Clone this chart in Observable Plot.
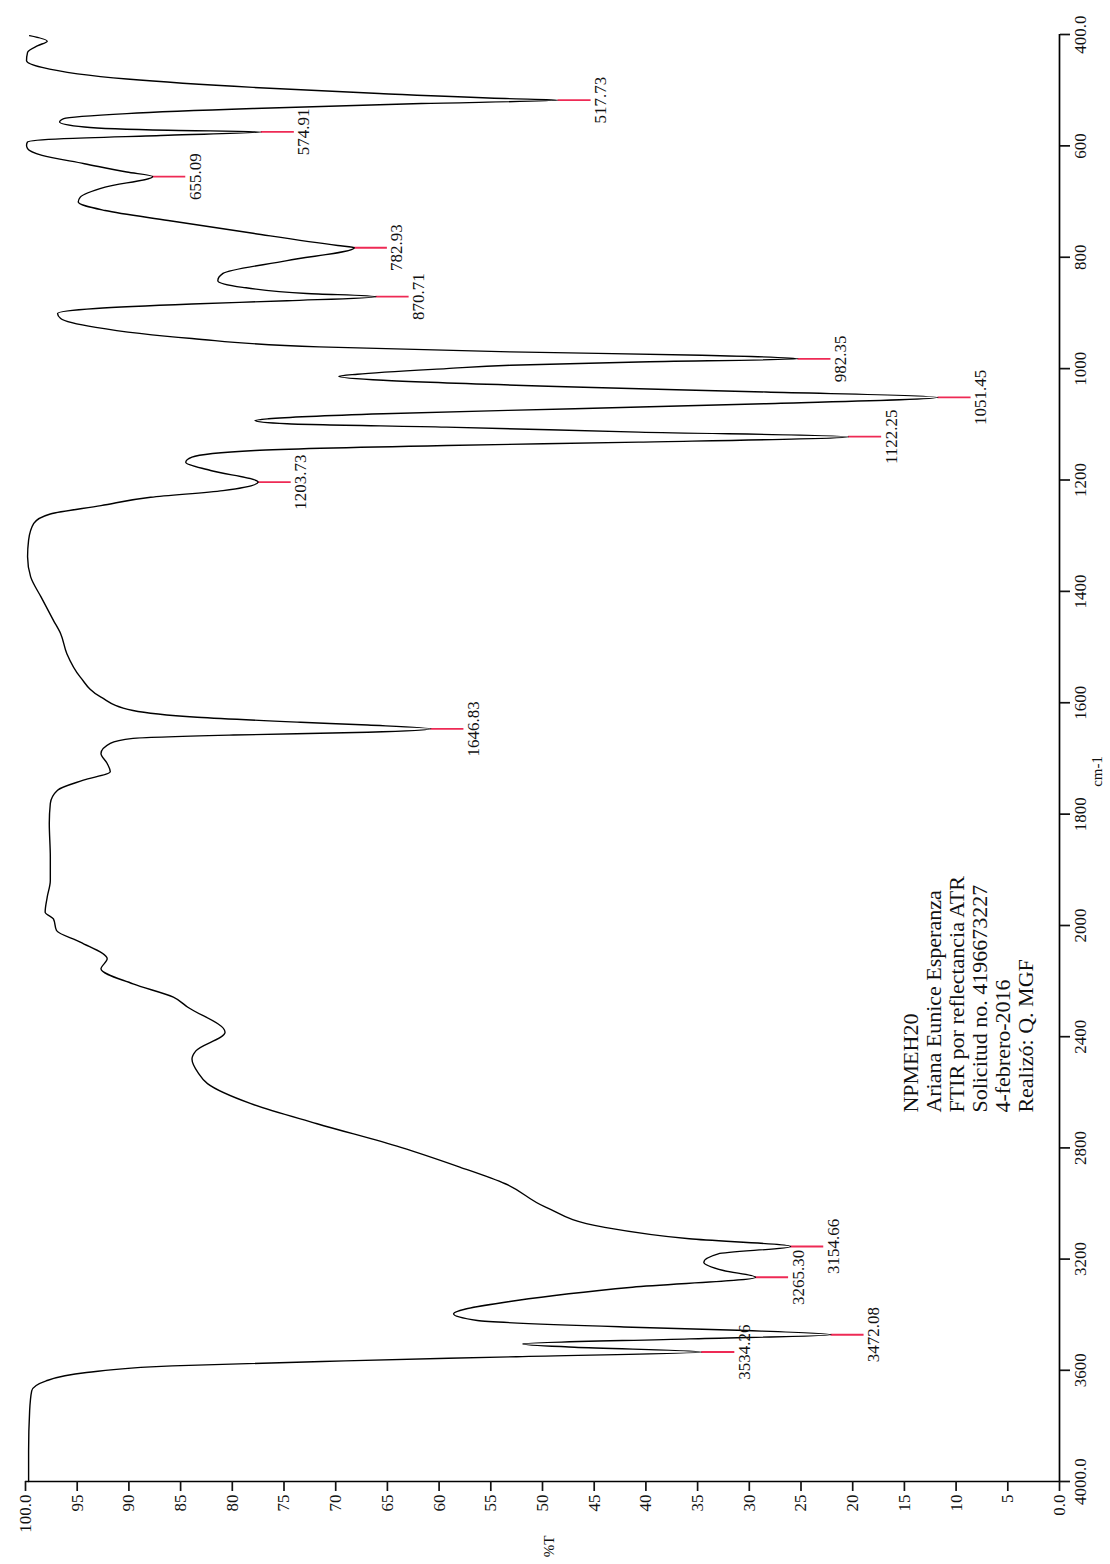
<!DOCTYPE html>
<html>
<head>
<meta charset="utf-8">
<script src="https://cdn.jsdelivr.net/npm/d3@7"></script>
<script src="https://cdn.jsdelivr.net/npm/@observablehq/plot@0.6"></script>
<style>
html, body { margin: 0; padding: 0; background: #fff; }
#chart { width: 1110px; height: 1564px; }
</style>
</head>
<body>
<div id="chart"></div>
<script>
// Wavenumber (cm-1) and %T
const wavenumbers = [402, 412, 420, 432, 447, 459, 480, 495, 506, 515, 517.73, 524, 533, 542, 551, 557, 566, 572, 574.91, 581, 587, 593, 599, 605, 617, 632, 647, 655.09, 674, 692, 701, 716, 734, 757, 779, 782.93, 806, 829, 842, 854, 865, 870.71, 878, 884, 892, 901, 910, 926, 946, 961, 970, 976, 982.35, 988, 994, 1000, 1010, 1014, 1021, 1033, 1042, 1051.45, 1063, 1072, 1081, 1090, 1093, 1099, 1105, 1114, 1122.25, 1132, 1138, 1147, 1159, 1168, 1183, 1203.73, 1219, 1231, 1246, 1261, 1278, 1308, 1338, 1374, 1410, 1452, 1476, 1512, 1554, 1590, 1614, 1626, 1635, 1640, 1646.83, 1653, 1658, 1664, 1673, 1691, 1709, 1724, 1739, 1757, 1781, 1817, 1877, 1919, 1949, 1976, 1988, 2018, 2060, 2120, 2156, 2210, 2258, 2294, 2384, 2450, 2480, 2530, 2569, 2641, 2713, 2798, 2869, 2929, 3013, 3085, 3127, 3154.66, 3181, 3211, 3241, 3265.30, 3301, 3349, 3397, 3421, 3445, 3457, 3472.08, 3487, 3505, 3517, 3534.26, 3551, 3566, 3584, 3608, 3638, 3674, 3746, 3890, 4000];
const transmittance = [99.6, 97.9, 98.8, 99.8, 99.9, 98.4, 90.2, 78.0, 65.8, 53.6, 48.5, 61.7, 78.0, 90.2, 96.3, 96.7, 94.3, 86.2, 77.2, 86.2, 96.3, 99.8, 99.9, 99.8, 98.4, 94.3, 90.2, 87.7, 92.3, 94.7, 94.9, 92.3, 86.2, 78.0, 69.8, 68.2, 74.7, 80.9, 81.4, 79.0, 72.8, 66.1, 74.7, 83.9, 93.2, 96.9, 96.6, 93.2, 83.9, 71.6, 53.1, 34.6, 25.3, 40.7, 53.1, 59.3, 67.9, 69.7, 65.4, 46.9, 28.4, 11.75, 28.4, 46.9, 65.4, 76.5, 77.8, 74.7, 59.3, 40.7, 20.4, 40.7, 59.3, 77.8, 83.9, 84.5, 82.1, 77.5, 80.9, 87.9, 92.7, 97.6, 99.2, 99.7, 99.8, 99.5, 98.5, 97.3, 96.6, 96.0, 94.7, 92.7, 89.6, 83.4, 73.4, 66.9, 60.8, 66.9, 79.9, 89.6, 91.8, 92.7, 92.1, 91.8, 94.4, 96.9, 97.6, 97.7, 97.6, 97.6, 97.9, 98.1, 97.3, 97.0, 94.7, 92.1, 92.7, 89.6, 85.7, 84.3, 80.7, 83.5, 83.9, 83.3, 82.4, 78.2, 71.8, 63.7, 58.0, 53.6, 49.7, 44.1, 35.8, 26.0, 33.0, 34.4, 32.5, 29.4, 41.3, 52.5, 58.6, 56.3, 41.3, 30.3, 22.1, 35.8, 51.9, 46.9, 34.6, 52.5, 69.1, 85.8, 94.1, 98.0, 99.4, 99.6, 99.7, 99.7];

// Labelled peaks
const peakWavenumbers = [517.73, 574.91, 655.09, 782.93, 870.71, 982.35, 1051.45, 1122.25, 1203.73, 1646.83, 3154.66, 3265.30, 3472.08, 3534.26];
const peakTransmittance = [48.5, 77.2, 87.7, 68.2, 66.1, 25.3, 11.75, 20.4, 77.5, 60.8, 26.0, 29.4, 22.1, 34.6];
const peakLabels = ["517.73", "574.91", "655.09", "782.93", "870.71", "982.35", "1051.45", "1122.25", "1203.73", "1646.83", "3154.66", "3265.30", "3472.08", "3534.26"];

// Axis ticks
const transmittanceTicks = [100, 95, 90, 85, 80, 75, 70, 65, 60, 55, 50, 45, 40, 35, 30, 25, 20, 15, 10, 5, 0];
const wavenumberTicks = [4000, 3600, 3200, 2800, 2400, 2000, 1800, 1600, 1400, 1200, 1000, 800, 600, 400];

const infoLines = ["NPMEH20", "Ariana Eunice Esperanza", "FTIR por reflectancia ATR", "Solicitud no. 4196673227", "4-febrero-2016", "Realizó: Q. MGF"];

const spectrum = wavenumbers.map((w, i) => ({w, t: transmittance[i]}));
const peaks = peakWavenumbers.map((w, i) => ({w, t: peakTransmittance[i], label: peakLabels[i]}));
const leader = 3.2; // length of the red marker line, in %T

const fontFamily = "'Liberation Serif', 'DejaVu Serif', serif";

const chart = Plot.plot({
  width: 1110,
  height: 1564,
  marginLeft: 25,
  marginRight: 51,
  marginTop: 34,
  marginBottom: 83,
  style: {fontFamily, fontSize: "17px", color: "#111", background: "#fff"},
  x: {domain: [100, 0], label: null},
  y: {type: "linear", domain: [4000, 2000, 400], range: [1481, 925, 34], label: null},
  marks: [
    Plot.ruleY([4000], {stroke: "#000", strokeWidth: 1.7}),
    Plot.ruleX([0], {stroke: "#000", strokeWidth: 1.7}),
    Plot.axisX(transmittanceTicks, {
      anchor: "bottom", tickSize: 10, tickPadding: 3, tickRotate: -90,
      textAnchor: "end", lineAnchor: "middle", strokeWidth: 1.7,
      tickFormat: d => d === 100 ? "100.0" : d === 0 ? "0.0" : String(d),
      label: null, fill: "#111"
    }),
    Plot.axisY(wavenumberTicks, {
      anchor: "right", tickSize: 10, tickPadding: 4, tickRotate: -90,
      textAnchor: "middle", lineAnchor: "top", strokeWidth: 1.7,
      tickFormat: d => d === 4000 ? "4000.0" : d === 400 ? "400.0" : String(d),
      label: null, fill: "#111"
    }),
    Plot.ruleY(peaks, {y: "w", x1: "t", x2: d => d.t - leader, stroke: "#ee2a55", strokeWidth: 1.8}),
    Plot.line(spectrum, {x: "t", y: "w", curve: "monotone-y", stroke: "#000", strokeWidth: 1.4}),
    Plot.text(peaks, {
      x: d => d.t - leader, y: "w", text: "label", rotate: -90,
      textAnchor: "middle", lineAnchor: "top", dx: 3, fontSize: 17, fill: "#111"
    }),
    Plot.text([infoLines.join("\n")], {
      x: 15.3, y: 2673, rotate: -90, textAnchor: "start", lineAnchor: "top",
      lineHeight: 1.05, fontSize: 22, fill: "#111"
    }),
    Plot.text(["%T"], {frameAnchor: "bottom", dx: 11, dy: 65, rotate: -90, fontSize: 15, fill: "#111"}),
    Plot.text(["cm-1"], {frameAnchor: "right", dx: 38, dy: -2, rotate: -90, fontSize: 15, fill: "#111"})
  ]
});

document.getElementById("chart").appendChild(chart);
</script>
</body>
</html>
